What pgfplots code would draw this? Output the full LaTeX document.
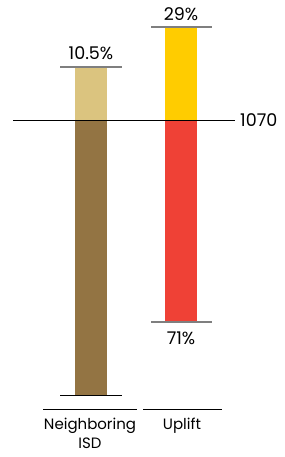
\documentclass[border=0pt]{standalone}
\usepackage{pgfplots}
\pgfplotsset{compat=1.18}
\usepackage{fontspec}
\setmainfont{Poppins}
\definecolor{lighttan}{HTML}{DBC47F}
\definecolor{darkbrown}{HTML}{937443}
\definecolor{upyellow}{HTML}{FFCC00}
\definecolor{upred}{HTML}{EF4136}
\definecolor{capgray}{HTML}{7F7F7F}
\begin{document}
\begin{tikzpicture}
\begin{axis}[
  width=284pt, height=457pt, scale only axis,
  xmin=0, xmax=284, ymin=0, ymax=457,
  hide axis, clip=false,
]
% invisible frame to fix the picture size
\addplot[draw=none, forget plot] coordinates {(0,0) (284,457)};
% Neighboring ISD: base (dark) and increment (light)
\addplot[fill=darkbrown, draw=none] coordinates {(75,62) (107,62) (107,337) (75,337)} --cycle;
\addplot[fill=lighttan, draw=none] coordinates {(75,337) (107,337) (107,390) (75,390)} --cycle;
% Uplift: 71% (red) and 29% (yellow)
\addplot[fill=upred, draw=none] coordinates {(165,135) (197,135) (197,337) (165,337)} --cycle;
\addplot[fill=upyellow, draw=none] coordinates {(165,337) (197,337) (197,430) (165,430)} --cycle;
% reference line 1070
\addplot[black, line width=0.9pt] coordinates {(13,337) (235,337)};
\node[anchor=west, inner sep=0pt, font=\fontsize{17.5}{20}\selectfont] at (axis cs:240,337) {1070};
% caps
\addplot[capgray, line width=1.2pt] coordinates {(60,390) (122,390)};
\addplot[black, line width=0.9pt] coordinates {(60,62) (122,62)};
\addplot[capgray, line width=1.2pt] coordinates {(151,430) (212,430)};
\addplot[capgray, line width=1.2pt] coordinates {(151,135) (212,135)};
% value labels
\node[font=\fontsize{17.5}{20}\selectfont] at (axis cs:91,404) {10.5\%};
\node[font=\fontsize{17.5}{20}\selectfont] at (axis cs:181,443) {29\%};
\node[font=\fontsize{17.5}{20}\selectfont] at (axis cs:181,119) {71\%};
% category lines
\addplot[black, line width=0.9pt] coordinates {(43,48) (137,48)};
\addplot[black, line width=0.9pt] coordinates {(143,48) (222,48)};
% category labels
\node[align=center, font=\fontsize{15}{19}\selectfont, anchor=north] at (axis cs:90,42) {Neighboring\\ISD};
\node[align=center, font=\fontsize{15}{19}\selectfont, anchor=north] at (axis cs:182,42) {Uplift};
\end{axis}
\end{tikzpicture}
\end{document}
